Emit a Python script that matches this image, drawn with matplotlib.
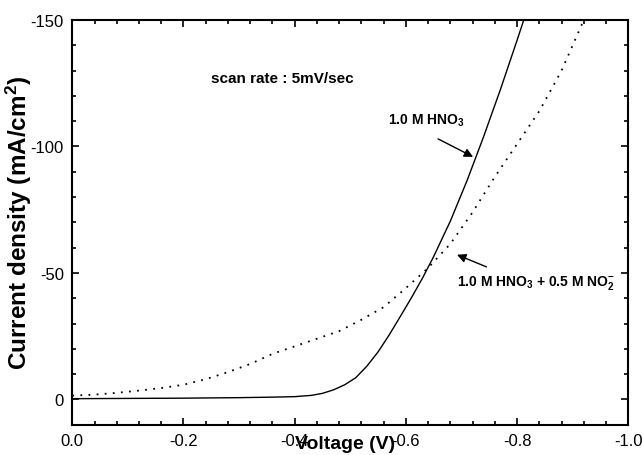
import matplotlib
matplotlib.use("Agg")
import matplotlib.pyplot as plt
from matplotlib.ticker import MultipleLocator, FixedLocator, FixedFormatter

plt.rcParams['font.family'] = ['Liberation Sans', 'DejaVu Sans']
plt.rcParams['axes.unicode_minus'] = False
plt.rcParams['mathtext.fontset'] = 'custom'
plt.rcParams['mathtext.rm'] = 'Liberation Sans:bold'
plt.rcParams['mathtext.default'] = 'rm'

# Data (Voltage in V, current density in mA/cm^2)
v_hno3 = [0, -0.10, -0.20, -0.30, -0.36, -0.40, -0.43, -0.45, -0.47, -0.49, -0.51,
          -0.53, -0.55, -0.57, -0.59, -0.61, -0.63, -0.65, -0.68, -0.71, -0.74,
          -0.77, -0.80, -0.815]
i_hno3 = [-0.3, -0.4, -0.5, -0.7, -0.9, -1.1, -1.6, -2.4, -3.8, -5.8, -8.6,
          -13.2, -18.8, -25.5, -32.8, -40.2, -48.0, -56.5, -70.5, -86.5, -104.0,
          -122.5, -142.0, -152.0]

v_mix = [0, -0.04, -0.08, -0.12, -0.16, -0.20, -0.24, -0.28, -0.32, -0.36, -0.40,
         -0.44, -0.48, -0.52, -0.56, -0.60, -0.64, -0.68, -0.72, -0.76, -0.80,
         -0.84, -0.88, -0.92]
i_mix = [-1.5, -1.9, -2.6, -3.5, -4.5, -5.8, -8.0, -10.8, -14.0, -18.0, -21.0,
         -24.0, -27.0, -31.5, -36.5, -44.0, -52.0, -61.5, -74.0, -88.0, -101.0,
         -114.0, -130.0, -150.0]

x_ticks = [0.0, -0.2, -0.4, -0.6, -0.8, -1.0]
x_ticklabels = ["0.0", "-0.2", "-0.4", "-0.6", "-0.8", "-1.0"]
y_ticks = [0, -50, -100, -150]
y_ticklabels = ["0", "-50", "-100", "-150"]

fig = plt.figure(figsize=(6.43, 4.56), dpi=100)
ax = fig.add_axes([0.1124, 0.0664, 0.9771 - 0.1124, 0.9539 - 0.0664])

ax.plot(v_hno3, i_hno3, color='black', lw=1.0, ls='-')
ax.plot(v_mix, i_mix, color='black', lw=1.3, ls=(0, (1, 3.5)))

ax.set_xlim(0, -1.0)
ax.set_ylim(10, -150)

ax.xaxis.set_major_locator(FixedLocator(x_ticks))
ax.xaxis.set_major_formatter(FixedFormatter(x_ticklabels))
ax.xaxis.set_minor_locator(MultipleLocator(0.04))
ax.yaxis.set_major_locator(FixedLocator(y_ticks))
ax.yaxis.set_major_formatter(FixedFormatter(y_ticklabels))
ax.yaxis.set_minor_locator(MultipleLocator(10))

ax.tick_params(which='both', direction='in', top=True, right=True, width=1.2,
               labelsize=12, pad=6)
ax.tick_params(which='major', length=5)
ax.tick_params(which='minor', length=3)
for s in ax.spines.values():
    s.set_linewidth(1.5)

ax.set_xlabel('Voltage (V)', fontsize=14, fontweight='bold', va='top')
ax.xaxis.set_label_coords(0.491, -0.026)
ax.set_ylabel('Current density (mA/cm$^\\mathrm{2}$)', fontsize=17.5, fontweight='bold')
ax.yaxis.set_label_coords(-0.068, 0.5)

ax.text(-0.25, -125.5, 'scan rate : 5mV/sec', fontsize=11, fontweight='bold',
        ha='left', va='baseline')
ax.text(-0.568, -109.0, '1.0 M HNO$_\\mathrm{3}$', fontsize=10, fontweight='bold',
        ha='left', va='baseline')
ax.text(-0.692, -45.4, '1.0 M HNO$_\\mathrm{3}$ + 0.5 M NO$_\\mathrm{2}^\\mathrm{-}$',
        fontsize=10, fontweight='bold', ha='left', va='baseline')

ax.annotate('', xy=(-0.721, -95.9), xytext=(-0.658, -103.0),
            arrowprops=dict(arrowstyle='-|>', color='black', lw=1.0,
                            mutation_scale=13, shrinkA=0, shrinkB=0))
ax.annotate('', xy=(-0.692, -57.2), xytext=(-0.745, -52.4),
            arrowprops=dict(arrowstyle='-|>', color='black', lw=1.0,
                            mutation_scale=13, shrinkA=0, shrinkB=0))

fig.savefig('out.png', dpi=100)
